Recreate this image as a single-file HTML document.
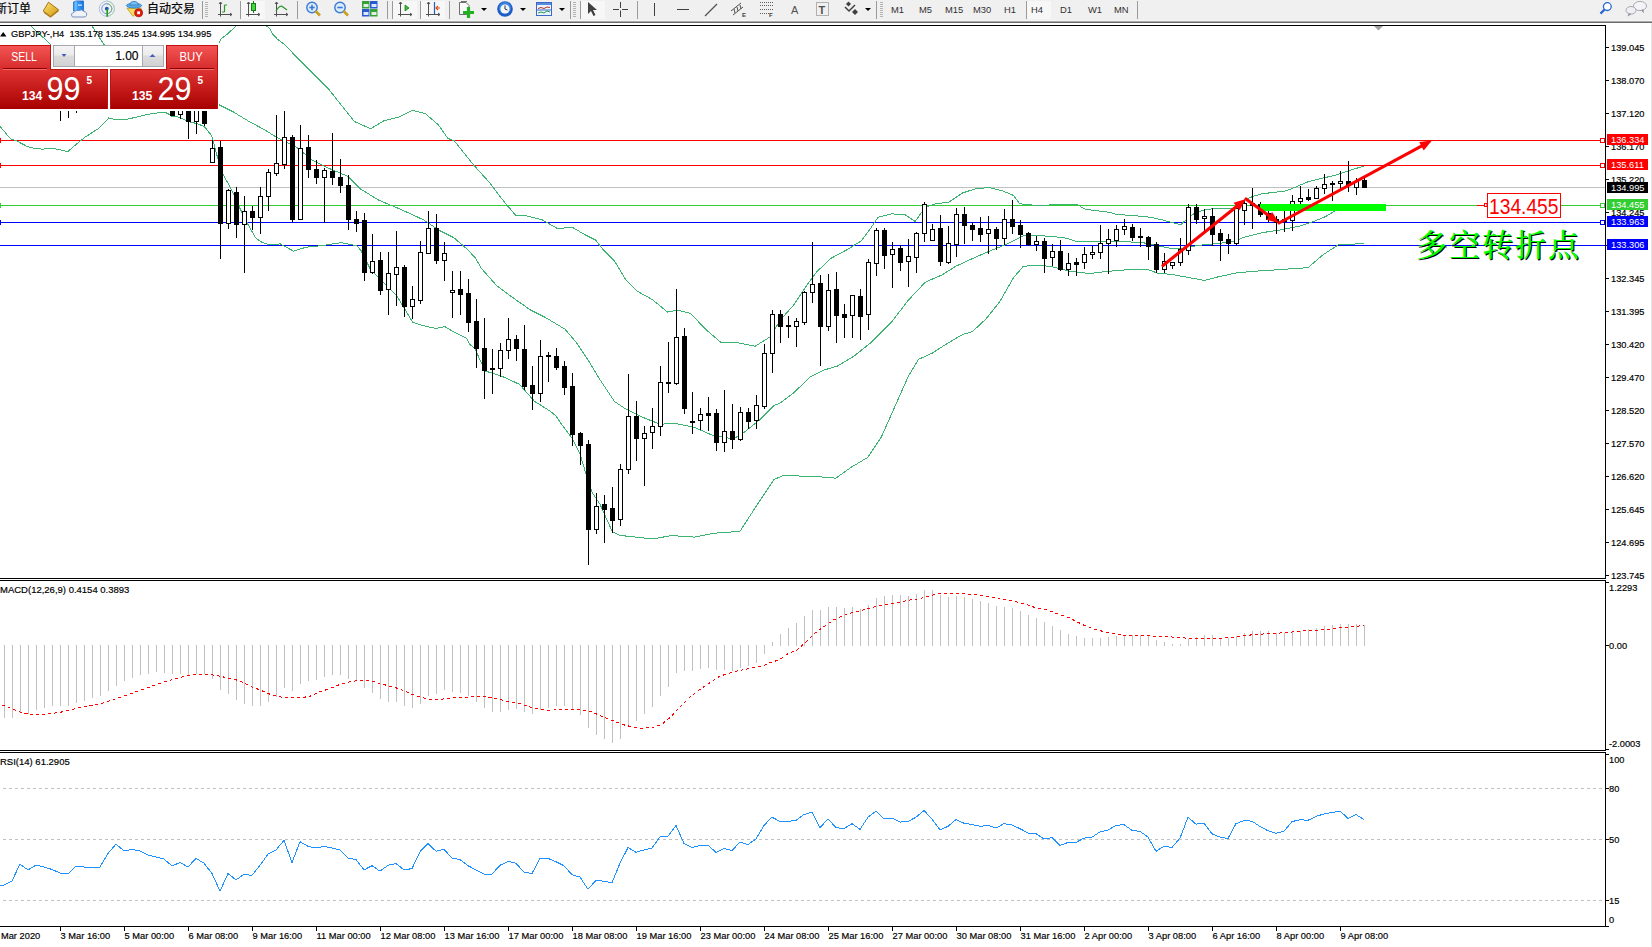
<!DOCTYPE html>
<html><head><meta charset="utf-8"><title>GBPJPY H4</title>
<style>
html,body{margin:0;padding:0;width:1652px;height:947px;overflow:hidden;background:#fff;}
svg text{white-space:pre;}
text[fill="#000"]{stroke:#000;stroke-width:0.18px;}
</style></head><body>
<svg width="1652" height="947" viewBox="0 0 1652 947" style="position:absolute;left:0;top:0;font-family:'Liberation Sans', 'Noto Sans CJK SC', sans-serif">
<rect x="0" y="0" width="1652" height="947" fill="#fff"/>
<rect x="1651" y="23" width="1" height="924" fill="#e6e6e6"/>
<rect x="0" y="0" width="1652" height="20" fill="#f0f0f0"/>
<rect x="0" y="20" width="1652" height="1" fill="#f7f7f7"/>
<rect x="0" y="21" width="1652" height="1" fill="#a9a9a9"/>
<rect x="0" y="22" width="1652" height="1" fill="#6d6d6d"/>
<rect x="202" y="1" width="1" height="18" fill="#9a9a9a"/>
<rect x="240" y="1" width="1" height="18" fill="#9a9a9a"/>
<rect x="297" y="1" width="1" height="18" fill="#9a9a9a"/>
<rect x="387" y="1" width="1" height="18" fill="#9a9a9a"/>
<rect x="392" y="1" width="1" height="18" fill="#9a9a9a"/>
<rect x="420" y="1" width="1" height="18" fill="#9a9a9a"/>
<rect x="449" y="1" width="1" height="18" fill="#9a9a9a"/>
<rect x="570" y="1" width="1" height="18" fill="#9a9a9a"/>
<rect x="580" y="1" width="1" height="18" fill="#9a9a9a"/>
<rect x="637" y="1" width="1" height="18" fill="#9a9a9a"/>
<rect x="876" y="1" width="1" height="18" fill="#9a9a9a"/>
<rect x="1026" y="1" width="1" height="18" fill="#9a9a9a"/>
<rect x="1137" y="1" width="1" height="18" fill="#9a9a9a"/>
<rect x="205" y="2" width="3" height="1" fill="#b4b4b4"/>
<rect x="205" y="4" width="3" height="1" fill="#b4b4b4"/>
<rect x="205" y="6" width="3" height="1" fill="#b4b4b4"/>
<rect x="205" y="8" width="3" height="1" fill="#b4b4b4"/>
<rect x="205" y="10" width="3" height="1" fill="#b4b4b4"/>
<rect x="205" y="12" width="3" height="1" fill="#b4b4b4"/>
<rect x="205" y="14" width="3" height="1" fill="#b4b4b4"/>
<rect x="205" y="16" width="3" height="1" fill="#b4b4b4"/>
<rect x="573" y="2" width="3" height="1" fill="#b4b4b4"/>
<rect x="573" y="4" width="3" height="1" fill="#b4b4b4"/>
<rect x="573" y="6" width="3" height="1" fill="#b4b4b4"/>
<rect x="573" y="8" width="3" height="1" fill="#b4b4b4"/>
<rect x="573" y="10" width="3" height="1" fill="#b4b4b4"/>
<rect x="573" y="12" width="3" height="1" fill="#b4b4b4"/>
<rect x="573" y="14" width="3" height="1" fill="#b4b4b4"/>
<rect x="573" y="16" width="3" height="1" fill="#b4b4b4"/>
<rect x="880" y="2" width="3" height="1" fill="#b4b4b4"/>
<rect x="880" y="4" width="3" height="1" fill="#b4b4b4"/>
<rect x="880" y="6" width="3" height="1" fill="#b4b4b4"/>
<rect x="880" y="8" width="3" height="1" fill="#b4b4b4"/>
<rect x="880" y="10" width="3" height="1" fill="#b4b4b4"/>
<rect x="880" y="12" width="3" height="1" fill="#b4b4b4"/>
<rect x="880" y="14" width="3" height="1" fill="#b4b4b4"/>
<rect x="880" y="16" width="3" height="1" fill="#b4b4b4"/>
<rect x="241" y="1" width="24" height="18" fill="#f7f7f7"/>
<rect x="393" y="1" width="24" height="18" fill="#f7f7f7"/>
<rect x="421" y="1" width="24" height="18" fill="#f7f7f7"/>
<rect x="581" y="1" width="24" height="18" fill="#f7f7f7"/>
<rect x="1027" y="1" width="24" height="18" fill="#f7f7f7"/>
<text x="-5" y="13" font-size="12" fill="#000" style="font-family:'Noto Sans CJK SC',sans-serif">新订单</text>
<text x="147" y="13" font-size="12" fill="#000" style="font-family:'Noto Sans CJK SC',sans-serif">自动交易</text>
<defs><linearGradient id="gold" x1="0" y1="0" x2="1" y2="1"><stop offset="0" stop-color="#ffe070"/><stop offset="1" stop-color="#d09a10"/></linearGradient><linearGradient id="bluedoc" x1="0" y1="0" x2="1" y2="0"><stop offset="0" stop-color="#50b0ff"/><stop offset="1" stop-color="#1478e8"/></linearGradient></defs>
<path d="M48.5,2.2 L58.6,9.8 L50.5,16.5 L43.2,11 Z" fill="url(#gold)" stroke="#9a6a10" stroke-width="0.9"/><path d="M44,12.2 L50.5,17 L58.6,10.6" fill="none" stroke="#b07a18" stroke-width="1.3"/>
<path d="M73.5,2 L76,1 L83.5,1 L83.5,11 L73.5,11Z" fill="url(#bluedoc)" stroke="#1a66c8" stroke-width="0.8"/><path d="M76,1 L76,11" stroke="#a8d8ff" stroke-width="0.8"/><rect x="78" y="4.5" width="4" height="1.2" fill="#d8eeff"/><path d="M72,16.5 Q70.5,13 74,12.5 Q75.5,9.5 79,10.5 Q82,8.8 84,11.5 Q87.5,12 86.5,15.5 Q86,17 84,17 L74,17 Q72.5,17 72,16.5Z" fill="#eef2fa" stroke="#6a86b8" stroke-width="0.9"/>
<g fill="none"><circle cx="106.8" cy="8.7" r="7.6" stroke="#a8bce8" stroke-width="0.9"/><path d="M106.8,1.1 A7.6,7.6 0 0 1 106.8,16.3" stroke="#a8d0a8" stroke-width="0.9"/><circle cx="106.8" cy="8.7" r="5" stroke="#6a8ee0" stroke-width="1"/><path d="M106.8,3.7 A5,5 0 0 1 106.8,13.7" stroke="#78b878" stroke-width="1"/><circle cx="106.8" cy="8.7" r="1.9" fill="#2050c8"/><path d="M107.2,9 L107.2,16.8" stroke="#20a020" stroke-width="1.6"/></g>
<g><path d="M127,8.3 L141.4,8.3 L133,16.4Z" fill="#f6dc60" stroke="#c09a20" stroke-width="0.8"/><ellipse cx="134" cy="5.6" rx="7.6" ry="2.4" fill="#5aaae6" stroke="#2a78c0" stroke-width="0.8"/><path d="M129.5,5 Q130,1.5 134,1.3 Q138,1.5 138.5,5Z" fill="#7cc0f0" stroke="#2a78c0" stroke-width="0.8"/><circle cx="138.6" cy="12.8" r="4" fill="#e02010" stroke="#a81000" stroke-width="0.8"/><rect x="137.2" y="11.4" width="2.8" height="2.8" fill="#fff"/></g>
<g stroke="#505050" stroke-width="1" fill="none"><path d="M220.5,2 L220.5,16.5 M218,14.5 L232,14.5"/><path d="M219,4 L220.5,2 L222,4"/><path d="M230,13 L232,14.5 L230,16"/></g>
<path d="M224.5,12 L224.5,5 M224.5,5 L227,5 M222,12 L224.5,12" stroke="#2a9a2a" stroke-width="1.2" fill="none"/>
<g stroke="#505050" stroke-width="1" fill="none"><path d="M248.5,2 L248.5,16.5 M246,14.5 L260,14.5"/><path d="M247,4 L248.5,2 L250,4"/><path d="M258,13 L260,14.5 L258,16"/></g>
<path d="M253.5,1 L253.5,13" stroke="#1a7a1a"/><rect x="251.5" y="3.5" width="4" height="7" fill="#3ada3a" stroke="#1a7a1a" stroke-width="1"/>
<g stroke="#505050" stroke-width="1" fill="none"><path d="M276.5,2 L276.5,16.5 M274,14.5 L288,14.5"/><path d="M275,4 L276.5,2 L278,4"/><path d="M286,13 L288,14.5 L286,16"/></g>
<path d="M276,11 Q280,4 283,7 L287,10" stroke="#2a9a2a" stroke-width="1.2" fill="none"/>
<circle cx="312" cy="7.5" r="5.2" fill="#dcecff" stroke="#3a7ad0" stroke-width="1.4"/><path d="M315.5,11 L320,15.5" stroke="#c8a020" stroke-width="2.6"/>
<path d="M309.3,7.5 L314.7,7.5" stroke="#3a7ad0" stroke-width="1.6"/>
<path d="M312,4.8 L312,10.2" stroke="#3a7ad0" stroke-width="1.6"/>
<circle cx="340" cy="7.5" r="5.2" fill="#dcecff" stroke="#3a7ad0" stroke-width="1.4"/><path d="M343.5,11 L348,15.5" stroke="#c8a020" stroke-width="2.6"/>
<path d="M337.3,7.5 L342.7,7.5" stroke="#3a7ad0" stroke-width="1.6"/>
<g><rect x="362" y="1" width="7.5" height="7.5" fill="#38a038"/><rect x="370" y="1" width="7.5" height="7.5" fill="#2a5ad0"/><rect x="362" y="9" width="7.5" height="7.5" fill="#2a5ad0"/><rect x="370" y="9" width="7.5" height="7.5" fill="#38a038"/><rect x="363.5" y="4" width="5" height="3" fill="#e0f0e0"/><rect x="371.5" y="4" width="5" height="3" fill="#e0e8ff"/><rect x="363.5" y="12" width="5" height="3" fill="#e0e8ff"/><rect x="371.5" y="12" width="5" height="3" fill="#e0f0e0"/></g>
<g stroke="#505050" stroke-width="1" fill="none"><path d="M400.5,2 L400.5,16.5 M398,14.5 L412,14.5"/><path d="M399,4 L400.5,2 L402,4"/><path d="M410,13 L412,14.5 L410,16"/></g>
<path d="M405,5 L405,11 L409,8Z" fill="#30c030" stroke="#208020" stroke-width="0.8"/>
<g stroke="#505050" stroke-width="1" fill="none"><path d="M428.5,2 L428.5,16.5 M426,14.5 L440,14.5"/><path d="M427,4 L428.5,2 L430,4"/><path d="M438,13 L440,14.5 L438,16"/></g>
<path d="M434.5,2 L434.5,14" stroke="#2060c0" stroke-width="1.2"/><path d="M440,8 L436,8 M438,6 L436,8 L438,10" stroke="#e05010" stroke-width="1.2" fill="none"/>
<g><path d="M459.5,2.5 L466,2.5 L469,5.5 L469,14.5 L459.5,14.5Z" fill="#fafafa" stroke="#707070"/><path d="M461,1.5 L467,1.5" stroke="#707070"/><path d="M468.5,7 L468.5,18 M463,12.5 L474,12.5" stroke="#20b020" stroke-width="3.2"/></g>
<path d="M481,8 L487,8 L484,11Z" fill="#000"/>
<g><circle cx="505" cy="9" r="7.8" fill="#1c5cc4"/><circle cx="505" cy="8" r="6" fill="#3f86e4"/><circle cx="505" cy="9" r="4.6" fill="#f4f6fa"/><path d="M505,5.5 L505,9 L507.5,10" stroke="#303030" stroke-width="1" fill="none"/></g>
<path d="M520,8 L526,8 L523,11Z" fill="#000"/>
<g><rect x="536.5" y="2.5" width="15" height="13" fill="#eef4ff" stroke="#3a6ac8"/><rect x="537" y="3" width="14" height="2" fill="#5a8ae0"/><path d="M538,8.5 L541,7.5 L544,8.5 L547,7 L550,7.5" stroke="#b03020" fill="none"/><path d="M538,13 L541,12 L544,13 L547,11 L550,12" stroke="#20a040" fill="none"/><path d="M537,10 L551,10" stroke="#3a6ac8"/></g>
<path d="M559,8 L565,8 L562,11Z" fill="#000"/>
<path d="M588,2 L588,14 L591,11 L593.5,16 L595.5,15 L593,10 L597,10Z" fill="#404040"/>
<path d="M620.5,2 L620.5,8 M620.5,10.5 L620.5,17 M613,9.5 L619,9.5 M622,9.5 L628,9.5" stroke="#404040" stroke-width="1"/>
<path d="M654.5,3 L654.5,16" stroke="#404040" stroke-width="1"/>
<path d="M677,9.5 L689,9.5" stroke="#404040" stroke-width="1"/>
<path d="M705,16 L717,4" stroke="#505050" stroke-width="1.2"/>
<g stroke="#505050" stroke-width="1" fill="none"><path d="M731,11 L741,3 M733,15 L743,7 M734,9 L735,13 M737,7 L738,11 M740,5 L741,9"/></g><text x="742" y="17" font-size="6" font-weight="bold" fill="#404040" style="font-family:'Liberation Sans',sans-serif">E</text>
<g stroke="#606060" stroke-width="1" stroke-dasharray="1,1" fill="none"><path d="M760,2.5 L773,2.5 M760,5.5 L773,5.5 M760,9.5 L773,9.5 M760,13.5 L769,13.5"/></g><text x="769" y="17" font-size="6" font-weight="bold" fill="#404040" style="font-family:'Liberation Sans',sans-serif">F</text>
<text x="791" y="13.5" font-size="11" fill="#505050" style="font-family:'Liberation Sans',sans-serif">A</text>
<rect x="816.5" y="2.5" width="12" height="13" fill="none" stroke="#707070" stroke-dasharray="1,1"/><text x="818.5" y="13.5" font-size="11" font-weight="bold" fill="#505050" style="font-family:'Liberation Sans',sans-serif">T</text>
<g fill="#404040"><path d="M846,4 L848.5,1.5 L851,4 L848.5,6.5Z"/><path d="M852,12 L855,9 L858,12 L855,15Z"/><path d="M845,7 L849,11 L855,5" stroke="#404040" stroke-width="1.5" fill="none"/></g>
<path d="M865,8 L871,8 L868,11Z" fill="#000"/>
<text x="891" y="12.7" font-size="9.4" fill="#303030">M1</text>
<text x="919" y="12.7" font-size="9.4" fill="#303030">M5</text>
<text x="945" y="12.7" font-size="9.4" fill="#303030">M15</text>
<text x="973" y="12.7" font-size="9.4" fill="#303030">M30</text>
<text x="1004" y="12.7" font-size="9.4" fill="#303030">H1</text>
<text x="1031" y="12.7" font-size="9.4" fill="#303030">H4</text>
<text x="1060" y="12.7" font-size="9.4" fill="#303030">D1</text>
<text x="1088" y="12.7" font-size="9.4" fill="#303030">W1</text>
<text x="1114" y="12.7" font-size="9.4" fill="#303030">MN</text>
<circle cx="1607.3" cy="6.6" r="3.9" fill="#fff" stroke="#2a66d0" stroke-width="1.3"/><path d="M1604.8,9.3 L1600.5,13.6" stroke="#2a66d0" stroke-width="2.2"/>
<g stroke="#a0a0a8" stroke-width="0.9"><ellipse cx="1640" cy="6" rx="6.5" ry="4.6" fill="#f4f4f8"/><path d="M1641,10 L1643.5,12.5 L1643,9.5" fill="#808090"/><ellipse cx="1631" cy="10.3" rx="5" ry="3.8" fill="#eeeef4"/><path d="M1629,13.5 L1628,16 L1631,14" fill="#808090"/></g>
<rect x="0" y="25" width="1606" height="1" fill="#000"/>
<rect x="1605" y="25" width="1" height="554" fill="#000"/>
<rect x="0" y="578" width="1606" height="1" fill="#000"/>
<path d="M1374,26 L1383,26 L1378.5,30.5Z" fill="#a0a0a0"/>
<svg x="0" y="26" width="1605" height="552" viewBox="0 26 1605 552" overflow="hidden">
<g shape-rendering="crispEdges">
<rect x="0" y="187" width="1605" height="1" fill="#c0c0c0"/>
<rect x="0" y="140" width="1600" height="1" fill="#ff0000"/>
<rect x="0" y="165" width="1600" height="1" fill="#ff0000"/>
<rect x="0" y="205" width="1600" height="1" fill="#32cd32"/>
<rect x="0" y="222" width="1600" height="1" fill="#0000ff"/>
<rect x="0" y="245" width="1605" height="1" fill="#0000ff"/>
<rect x="1600.5" y="138.5" width="4" height="4" fill="#fff" stroke="#ff0000" stroke-width="1"/>
<rect x="-3.5" y="138.5" width="4" height="4" fill="#fff" stroke="#ff0000" stroke-width="1"/>
<rect x="1600.5" y="163.5" width="4" height="4" fill="#fff" stroke="#ff0000" stroke-width="1"/>
<rect x="-3.5" y="163.5" width="4" height="4" fill="#fff" stroke="#ff0000" stroke-width="1"/>
<rect x="1600.5" y="203.5" width="4" height="4" fill="#fff" stroke="#32cd32" stroke-width="1"/>
<rect x="-3.5" y="203.5" width="4" height="4" fill="#fff" stroke="#32cd32" stroke-width="1"/>
<rect x="1600.5" y="220.5" width="4" height="4" fill="#fff" stroke="#0000ff" stroke-width="1"/>
<rect x="-3.5" y="220.5" width="4" height="4" fill="#fff" stroke="#0000ff" stroke-width="1"/>
</g>
<g fill="none" stroke="#3cb371" stroke-width="1" shape-rendering="crispEdges">
<polyline points="28.0,22.0 31.0,26.0 49.0,43.0 52.0,46.0"/>
<polyline points="89.0,22.0 92.0,26.0 103.0,43.0 105.0,46.0"/>
<polyline points="219.3,43.0 220.5,39.4 222.9,37.5 227.3,34.3 236.0,25.9 237.5,23.0"/>
<polyline points="264.5,23.0 266.5,25.9 269.4,28.3 272.8,34.1 277.6,39.4 281.5,42.3 285.0,44.8 296.6,57.2 328.8,89.4 354.5,121.6 370.6,128.7 383.5,121.0 399.6,116.8 412.5,110.3 425.4,113.6 438.3,124.8 447.9,138.4 454.3,140.9 473.7,165.1 489.8,182.8 504.2,201.9 515.6,215.2 527.0,216.0 542.2,219.8 557.4,228.5 572.6,227.4 584.0,234.2 595.4,239.9 603.0,249.4 614.4,260.8 625.8,279.8 637.2,291.2 652.4,299.6 667.6,312.1 677.1,310.2 690.4,313.3 705.6,329.2 720.9,342.5 736.1,342.5 755.1,346.3 770.3,336.8 780.0,320.4 793.5,305.2 807.0,284.9 817.2,271.4 830.7,258.5 847.6,249.4 861.1,241.0 871.2,227.5 878.0,217.3 891.5,213.9 905.0,214.6 915.2,221.4 925.3,207.2 935.5,203.8 949.0,202.1 962.5,193.0 976.0,188.6 989.5,187.6 1003.0,191.0 1013.2,195.3 1019.9,203.8 1036.8,205.5 1060.5,204.5 1077.4,204.5 1084.2,208.9 1090.0,209.9 1108.2,212.1 1117.2,214.5 1135.4,215.7 1149.9,217.2 1162.6,219.9 1171.7,222.6 1180.8,224.5 1188.1,218.1 1195.3,212.6 1204.4,209.9 1217.1,208.1 1233.5,208.1 1244.3,199.9 1253.4,196.3 1262.5,193.6 1271.6,192.7 1286.1,190.9 1295.2,187.2 1307.9,181.8 1322.4,178.1 1335.1,175.4 1347.9,170.9 1364.2,166.0"/>
<polyline points="214.0,102.0 219.3,104.9 232.2,111.3 248.3,121.0 264.4,129.7 277.3,137.7 296.6,147.4 312.7,160.3 328.8,168.3 348.1,176.4 361.0,189.3 378.4,200.0 399.9,209.0 423.3,219.7 439.4,230.5 453.8,237.7 466.4,248.5 475.0,257.4 481.4,268.4 496.6,285.5 511.8,296.9 530.8,310.2 546.0,317.8 565.0,329.2 576.4,342.5 587.8,359.6 599.2,378.6 614.4,401.4 625.8,409.0 641.0,416.6 660.0,424.2 675.2,423.5 694.2,427.3 713.3,435.7 732.3,438.7 739.9,435.7 758.9,420.5 774.1,405.2 780.0,403.2 793.5,393.0 810.4,376.8 823.9,370.1 837.5,366.0 854.3,355.9 871.2,342.4 891.5,322.1 908.4,300.1 925.3,282.2 942.2,274.8 955.7,266.3 972.6,258.5 989.5,251.1 1006.4,244.3 1023.3,235.9 1043.6,235.9 1063.9,237.6 1077.4,241.6 1090.0,241.2 1108.2,241.7 1126.3,241.7 1144.5,243.0 1159.0,246.2 1169.9,248.1 1184.4,248.1 1199.0,245.3 1217.1,243.5 1233.5,241.7 1244.3,237.2 1262.5,232.6 1280.7,229.9 1298.8,226.3 1313.4,221.7 1326.1,216.3 1335.1,210.8 1344.2,207.2 1364.2,205.4"/>
<polyline points="0.0,126.3 10.6,139.0 16.9,141.1 27.5,146.6 33.8,148.1 42.3,149.2 50.7,148.1 59.2,149.6 67.6,151.7 76.1,144.5 84.5,137.5 99.3,128.0 108.8,117.9 114.1,119.2 126.8,119.2 137.3,117.0 147.9,114.3 158.5,112.8 165.3,112.3 169.7,114.7 172.1,116.4 177.0,116.6 180.3,117.6 185.2,120.0 187.6,121.5 191.5,122.2 197.8,123.9 203.6,126.3 206.5,129.2 210.4,134.1 212.5,138.0 217.9,158.9 223.3,175.0 230.5,187.6 239.4,207.3 248.4,225.3 255.6,237.9 261.9,242.3 267.3,244.1 280.5,244.0 293.4,251.1 306.2,247.2 322.3,245.6 335.2,243.4 341.7,242.7 351.3,244.6 356.8,245.8 361.0,250.4 370.6,269.8 383.5,282.7 396.3,295.1 412.5,322.1 421.5,325.3 435.8,328.4 444.8,326.6 455.6,332.9 466.4,338.2 470.0,344.4 475.0,349.0 485.2,371.0 500.4,375.6 519.4,384.3 534.6,401.4 549.8,410.9 556.0,416.0 560.0,422.0 572.0,438.2 580.1,454.2 586.1,474.3 592.1,492.4 600.1,504.4 612.2,531.5 620.2,535.5 629.6,536.4 652.4,539.0 671.4,535.6 694.2,537.1 713.3,533.3 739.9,531.4 755.1,507.9 774.1,479.4 782.4,475.9 793.5,475.8 820.6,476.9 835.8,478.2 851.0,467.4 867.9,457.3 881.4,437.0 894.9,406.6 908.4,376.2 918.6,359.3 932.1,353.2 949.0,342.4 962.5,334.6 972.6,331.5 986.2,318.7 999.7,301.8 1013.2,278.1 1023.3,266.3 1036.8,265.3 1050.4,266.3 1070.6,271.4 1090.0,273.5 1108.2,271.3 1126.3,269.8 1148.1,269.5 1157.2,273.1 1171.7,274.4 1186.2,277.1 1204.4,280.4 1217.1,277.1 1235.3,273.1 1253.4,271.3 1271.6,270.2 1289.7,268.9 1307.9,267.7 1322.4,255.3 1338.8,244.4 1353.3,244.1 1364.2,243.5"/>
</g>
<g fill="#000" shape-rendering="crispEdges"><rect x="60" y="100" width="1" height="21"/><rect x="68" y="100" width="1" height="18"/><rect x="76" y="100" width="1" height="13"/><rect x="172" y="100" width="1" height="16"/><rect x="170" y="100" width="5" height="16"/><rect x="180" y="100" width="1" height="19"/><rect x="178" y="100" width="5" height="15"/><rect x="179" y="101" width="3" height="13" fill="#fff"/><rect x="188" y="100" width="1" height="39"/><rect x="186" y="100" width="5" height="22"/><rect x="196" y="100" width="1" height="34"/><rect x="194" y="100" width="5" height="22"/><rect x="195" y="101" width="3" height="20" fill="#fff"/><rect x="204" y="100" width="1" height="26"/><rect x="202" y="100" width="5" height="24"/><rect x="212" y="140" width="1" height="23"/><rect x="210" y="148" width="5" height="15"/><rect x="211" y="149" width="3" height="13" fill="#fff"/><rect x="220" y="141" width="1" height="118"/><rect x="218" y="147" width="5" height="77"/><rect x="228" y="189" width="1" height="40"/><rect x="226" y="190" width="5" height="34"/><rect x="227" y="191" width="3" height="32" fill="#fff"/><rect x="236" y="187" width="1" height="51"/><rect x="234" y="192" width="5" height="33"/><rect x="244" y="196" width="1" height="77"/><rect x="242" y="211" width="5" height="14"/><rect x="243" y="212" width="3" height="12" fill="#fff"/><rect x="252" y="206" width="1" height="24"/><rect x="250" y="211" width="5" height="7"/><rect x="260" y="187" width="1" height="47"/><rect x="258" y="196" width="5" height="22"/><rect x="259" y="197" width="3" height="20" fill="#fff"/><rect x="268" y="169" width="1" height="42"/><rect x="266" y="172" width="5" height="25"/><rect x="267" y="173" width="3" height="23" fill="#fff"/><rect x="276" y="115" width="1" height="61"/><rect x="274" y="163" width="5" height="11"/><rect x="275" y="164" width="3" height="9" fill="#fff"/><rect x="284" y="111" width="1" height="58"/><rect x="282" y="137" width="5" height="28"/><rect x="283" y="138" width="3" height="26" fill="#fff"/><rect x="292" y="135" width="1" height="87"/><rect x="290" y="137" width="5" height="83"/><rect x="300" y="125" width="1" height="95"/><rect x="298" y="148" width="5" height="72"/><rect x="299" y="149" width="3" height="70" fill="#fff"/><rect x="308" y="135" width="1" height="43"/><rect x="306" y="147" width="5" height="23"/><rect x="316" y="160" width="1" height="24"/><rect x="314" y="169" width="5" height="9"/><rect x="324" y="168" width="1" height="55"/><rect x="322" y="170" width="5" height="8"/><rect x="323" y="171" width="3" height="6" fill="#fff"/><rect x="332" y="133" width="1" height="52"/><rect x="330" y="171" width="5" height="7"/><rect x="340" y="159" width="1" height="34"/><rect x="338" y="177" width="5" height="9"/><rect x="348" y="175" width="1" height="55"/><rect x="346" y="185" width="5" height="35"/><rect x="356" y="211" width="1" height="21"/><rect x="354" y="219" width="5" height="5"/><rect x="364" y="213" width="1" height="68"/><rect x="362" y="220" width="5" height="53"/><rect x="372" y="234" width="1" height="40"/><rect x="370" y="261" width="5" height="12"/><rect x="371" y="262" width="3" height="10" fill="#fff"/><rect x="380" y="252" width="1" height="43"/><rect x="378" y="260" width="5" height="31"/><rect x="388" y="252" width="1" height="63"/><rect x="386" y="273" width="5" height="17"/><rect x="387" y="274" width="3" height="15" fill="#fff"/><rect x="396" y="231" width="1" height="75"/><rect x="394" y="267" width="5" height="8"/><rect x="395" y="268" width="3" height="6" fill="#fff"/><rect x="404" y="265" width="1" height="52"/><rect x="402" y="267" width="5" height="40"/><rect x="412" y="286" width="1" height="33"/><rect x="410" y="299" width="5" height="8"/><rect x="411" y="300" width="3" height="6" fill="#fff"/><rect x="420" y="241" width="1" height="63"/><rect x="418" y="252" width="5" height="49"/><rect x="419" y="253" width="3" height="47" fill="#fff"/><rect x="428" y="211" width="1" height="43"/><rect x="426" y="228" width="5" height="26"/><rect x="427" y="229" width="3" height="24" fill="#fff"/><rect x="436" y="214" width="1" height="50"/><rect x="434" y="228" width="5" height="33"/><rect x="444" y="242" width="1" height="39"/><rect x="442" y="253" width="5" height="8"/><rect x="443" y="254" width="3" height="6" fill="#fff"/><rect x="452" y="271" width="1" height="47"/><rect x="450" y="290" width="5" height="3"/><rect x="451" y="291" width="3" height="1" fill="#fff"/><rect x="460" y="271" width="1" height="44"/><rect x="458" y="289" width="5" height="6"/><rect x="468" y="279" width="1" height="53"/><rect x="466" y="293" width="5" height="30"/><rect x="476" y="299" width="1" height="69"/><rect x="474" y="321" width="5" height="28"/><rect x="484" y="318" width="1" height="81"/><rect x="482" y="348" width="5" height="23"/><rect x="492" y="349" width="1" height="45"/><rect x="490" y="368" width="5" height="2"/><rect x="500" y="343" width="1" height="34"/><rect x="498" y="350" width="5" height="19"/><rect x="499" y="351" width="3" height="17" fill="#fff"/><rect x="508" y="318" width="1" height="41"/><rect x="506" y="339" width="5" height="12"/><rect x="507" y="340" width="3" height="10" fill="#fff"/><rect x="516" y="335" width="1" height="26"/><rect x="514" y="339" width="5" height="10"/><rect x="524" y="325" width="1" height="65"/><rect x="522" y="349" width="5" height="38"/><rect x="532" y="366" width="1" height="44"/><rect x="530" y="385" width="5" height="9"/><rect x="540" y="340" width="1" height="62"/><rect x="538" y="356" width="5" height="38"/><rect x="539" y="357" width="3" height="36" fill="#fff"/><rect x="548" y="352" width="1" height="30"/><rect x="546" y="355" width="5" height="2"/><rect x="556" y="348" width="1" height="22"/><rect x="554" y="356" width="5" height="12"/><rect x="564" y="361" width="1" height="34"/><rect x="562" y="366" width="5" height="22"/><rect x="572" y="373" width="1" height="73"/><rect x="570" y="386" width="5" height="49"/><rect x="580" y="432" width="1" height="33"/><rect x="578" y="433" width="5" height="13"/><rect x="588" y="440" width="1" height="125"/><rect x="586" y="444" width="5" height="86"/><rect x="596" y="493" width="1" height="41"/><rect x="594" y="506" width="5" height="24"/><rect x="595" y="507" width="3" height="22" fill="#fff"/><rect x="604" y="495" width="1" height="48"/><rect x="602" y="504" width="5" height="6"/><rect x="612" y="487" width="1" height="46"/><rect x="610" y="508" width="5" height="13"/><rect x="620" y="464" width="1" height="62"/><rect x="618" y="469" width="5" height="51"/><rect x="619" y="470" width="3" height="49" fill="#fff"/><rect x="628" y="374" width="1" height="100"/><rect x="626" y="416" width="5" height="54"/><rect x="627" y="417" width="3" height="52" fill="#fff"/><rect x="636" y="401" width="1" height="60"/><rect x="634" y="416" width="5" height="23"/><rect x="644" y="426" width="1" height="60"/><rect x="642" y="433" width="5" height="6"/><rect x="643" y="434" width="3" height="4" fill="#fff"/><rect x="652" y="408" width="1" height="41"/><rect x="650" y="426" width="5" height="7"/><rect x="651" y="427" width="3" height="5" fill="#fff"/><rect x="660" y="366" width="1" height="70"/><rect x="658" y="382" width="5" height="45"/><rect x="659" y="383" width="3" height="43" fill="#fff"/><rect x="668" y="342" width="1" height="51"/><rect x="666" y="382" width="5" height="2"/><rect x="676" y="289" width="1" height="96"/><rect x="674" y="337" width="5" height="47"/><rect x="675" y="338" width="3" height="45" fill="#fff"/><rect x="684" y="328" width="1" height="86"/><rect x="682" y="336" width="5" height="73"/><rect x="692" y="392" width="1" height="42"/><rect x="690" y="421" width="5" height="2"/><rect x="700" y="408" width="1" height="22"/><rect x="698" y="414" width="5" height="7"/><rect x="699" y="415" width="3" height="5" fill="#fff"/><rect x="708" y="397" width="1" height="34"/><rect x="706" y="413" width="5" height="3"/><rect x="716" y="409" width="1" height="42"/><rect x="714" y="413" width="5" height="30"/><rect x="724" y="390" width="1" height="62"/><rect x="722" y="431" width="5" height="12"/><rect x="723" y="432" width="3" height="10" fill="#fff"/><rect x="732" y="404" width="1" height="45"/><rect x="730" y="431" width="5" height="9"/><rect x="740" y="407" width="1" height="34"/><rect x="738" y="412" width="5" height="28"/><rect x="739" y="413" width="3" height="26" fill="#fff"/><rect x="748" y="408" width="1" height="21"/><rect x="746" y="412" width="5" height="10"/><rect x="756" y="395" width="1" height="34"/><rect x="754" y="405" width="5" height="16"/><rect x="755" y="406" width="3" height="14" fill="#fff"/><rect x="764" y="344" width="1" height="65"/><rect x="762" y="353" width="5" height="54"/><rect x="763" y="354" width="3" height="52" fill="#fff"/><rect x="772" y="310" width="1" height="63"/><rect x="770" y="314" width="5" height="40"/><rect x="771" y="315" width="3" height="38" fill="#fff"/><rect x="780" y="310" width="1" height="33"/><rect x="778" y="314" width="5" height="13"/><rect x="788" y="316" width="1" height="22"/><rect x="786" y="325" width="5" height="2"/><rect x="796" y="318" width="1" height="29"/><rect x="794" y="321" width="5" height="6"/><rect x="795" y="322" width="3" height="4" fill="#fff"/><rect x="804" y="291" width="1" height="34"/><rect x="802" y="292" width="5" height="31"/><rect x="803" y="293" width="3" height="29" fill="#fff"/><rect x="812" y="242" width="1" height="61"/><rect x="810" y="284" width="5" height="9"/><rect x="811" y="285" width="3" height="7" fill="#fff"/><rect x="820" y="275" width="1" height="91"/><rect x="818" y="283" width="5" height="44"/><rect x="828" y="274" width="1" height="57"/><rect x="826" y="290" width="5" height="37"/><rect x="827" y="291" width="3" height="35" fill="#fff"/><rect x="836" y="272" width="1" height="71"/><rect x="834" y="289" width="5" height="27"/><rect x="844" y="304" width="1" height="34"/><rect x="842" y="314" width="5" height="4"/><rect x="852" y="295" width="1" height="43"/><rect x="850" y="295" width="5" height="21"/><rect x="851" y="296" width="3" height="19" fill="#fff"/><rect x="860" y="289" width="1" height="51"/><rect x="858" y="296" width="5" height="21"/><rect x="868" y="259" width="1" height="71"/><rect x="866" y="262" width="5" height="53"/><rect x="867" y="263" width="3" height="51" fill="#fff"/><rect x="876" y="228" width="1" height="48"/><rect x="874" y="230" width="5" height="34"/><rect x="875" y="231" width="3" height="32" fill="#fff"/><rect x="884" y="228" width="1" height="41"/><rect x="882" y="230" width="5" height="26"/><rect x="892" y="242" width="1" height="46"/><rect x="890" y="249" width="5" height="6"/><rect x="891" y="250" width="3" height="4" fill="#fff"/><rect x="900" y="245" width="1" height="26"/><rect x="898" y="248" width="5" height="15"/><rect x="908" y="239" width="1" height="48"/><rect x="906" y="256" width="5" height="6"/><rect x="907" y="257" width="3" height="4" fill="#fff"/><rect x="916" y="232" width="1" height="41"/><rect x="914" y="233" width="5" height="25"/><rect x="915" y="234" width="3" height="23" fill="#fff"/><rect x="924" y="202" width="1" height="40"/><rect x="922" y="204" width="5" height="30"/><rect x="923" y="205" width="3" height="28" fill="#fff"/><rect x="932" y="224" width="1" height="17"/><rect x="930" y="229" width="5" height="12"/><rect x="931" y="230" width="3" height="10" fill="#fff"/><rect x="940" y="215" width="1" height="51"/><rect x="938" y="228" width="5" height="34"/><rect x="948" y="226" width="1" height="38"/><rect x="946" y="243" width="5" height="20"/><rect x="947" y="244" width="3" height="18" fill="#fff"/><rect x="956" y="208" width="1" height="49"/><rect x="954" y="214" width="5" height="31"/><rect x="955" y="215" width="3" height="29" fill="#fff"/><rect x="964" y="207" width="1" height="37"/><rect x="962" y="214" width="5" height="12"/><rect x="972" y="223" width="1" height="18"/><rect x="970" y="225" width="5" height="5"/><rect x="980" y="217" width="1" height="25"/><rect x="978" y="228" width="5" height="7"/><rect x="988" y="216" width="1" height="38"/><rect x="986" y="229" width="5" height="5"/><rect x="987" y="230" width="3" height="3" fill="#fff"/><rect x="996" y="227" width="1" height="23"/><rect x="994" y="229" width="5" height="10"/><rect x="1004" y="209" width="1" height="36"/><rect x="1002" y="219" width="5" height="20"/><rect x="1003" y="220" width="3" height="18" fill="#fff"/><rect x="1012" y="200" width="1" height="34"/><rect x="1010" y="219" width="5" height="8"/><rect x="1020" y="220" width="1" height="28"/><rect x="1018" y="225" width="5" height="10"/><rect x="1028" y="232" width="1" height="14"/><rect x="1026" y="233" width="5" height="12"/><rect x="1036" y="236" width="1" height="15"/><rect x="1034" y="241" width="5" height="4"/><rect x="1035" y="242" width="3" height="2" fill="#fff"/><rect x="1044" y="238" width="1" height="35"/><rect x="1042" y="241" width="5" height="18"/><rect x="1052" y="244" width="1" height="22"/><rect x="1050" y="251" width="5" height="7"/><rect x="1051" y="252" width="3" height="5" fill="#fff"/><rect x="1060" y="240" width="1" height="31"/><rect x="1058" y="251" width="5" height="19"/><rect x="1068" y="253" width="1" height="23"/><rect x="1066" y="263" width="5" height="7"/><rect x="1067" y="264" width="3" height="5" fill="#fff"/><rect x="1076" y="258" width="1" height="18"/><rect x="1074" y="262" width="5" height="3"/><rect x="1084" y="247" width="1" height="22"/><rect x="1082" y="254" width="5" height="9"/><rect x="1083" y="255" width="3" height="7" fill="#fff"/><rect x="1092" y="246" width="1" height="13"/><rect x="1090" y="252" width="5" height="3"/><rect x="1091" y="253" width="3" height="1" fill="#fff"/><rect x="1100" y="225" width="1" height="34"/><rect x="1098" y="243" width="5" height="10"/><rect x="1099" y="244" width="3" height="8" fill="#fff"/><rect x="1108" y="229" width="1" height="45"/><rect x="1106" y="239" width="5" height="5"/><rect x="1107" y="240" width="3" height="3" fill="#fff"/><rect x="1116" y="225" width="1" height="22"/><rect x="1114" y="229" width="5" height="12"/><rect x="1115" y="230" width="3" height="10" fill="#fff"/><rect x="1124" y="219" width="1" height="16"/><rect x="1122" y="226" width="5" height="4"/><rect x="1123" y="227" width="3" height="2" fill="#fff"/><rect x="1132" y="224" width="1" height="17"/><rect x="1130" y="227" width="5" height="11"/><rect x="1140" y="228" width="1" height="19"/><rect x="1138" y="236" width="5" height="2"/><rect x="1148" y="236" width="1" height="24"/><rect x="1146" y="237" width="5" height="10"/><rect x="1156" y="242" width="1" height="31"/><rect x="1154" y="244" width="5" height="26"/><rect x="1164" y="253" width="1" height="20"/><rect x="1162" y="261" width="5" height="9"/><rect x="1163" y="262" width="3" height="7" fill="#fff"/><rect x="1172" y="262" width="1" height="7"/><rect x="1170" y="262" width="5" height="4"/><rect x="1171" y="263" width="3" height="2" fill="#fff"/><rect x="1180" y="238" width="1" height="28"/><rect x="1178" y="249" width="5" height="14"/><rect x="1179" y="250" width="3" height="12" fill="#fff"/><rect x="1188" y="204" width="1" height="51"/><rect x="1186" y="207" width="5" height="44"/><rect x="1187" y="208" width="3" height="42" fill="#fff"/><rect x="1196" y="204" width="1" height="20"/><rect x="1194" y="207" width="5" height="13"/><rect x="1204" y="209" width="1" height="22"/><rect x="1202" y="216" width="5" height="3"/><rect x="1203" y="217" width="3" height="1" fill="#fff"/><rect x="1212" y="208" width="1" height="38"/><rect x="1210" y="216" width="5" height="19"/><rect x="1220" y="229" width="1" height="32"/><rect x="1218" y="233" width="5" height="8"/><rect x="1228" y="234" width="1" height="20"/><rect x="1226" y="239" width="5" height="5"/><rect x="1236" y="205" width="1" height="41"/><rect x="1234" y="208" width="5" height="36"/><rect x="1235" y="209" width="3" height="34" fill="#fff"/><rect x="1244" y="201" width="1" height="24"/><rect x="1242" y="203" width="5" height="8"/><rect x="1243" y="204" width="3" height="6" fill="#fff"/><rect x="1252" y="188" width="1" height="41"/><rect x="1250" y="203" width="5" height="3"/><rect x="1260" y="202" width="1" height="15"/><rect x="1258" y="204" width="5" height="11"/><rect x="1268" y="211" width="1" height="11"/><rect x="1266" y="213" width="5" height="7"/><rect x="1276" y="216" width="1" height="18"/><rect x="1274" y="219" width="5" height="4"/><rect x="1284" y="211" width="1" height="21"/><rect x="1282" y="219" width="5" height="3"/><rect x="1292" y="195" width="1" height="36"/><rect x="1290" y="201" width="5" height="20"/><rect x="1291" y="202" width="3" height="18" fill="#fff"/><rect x="1300" y="186" width="1" height="19"/><rect x="1298" y="198" width="5" height="4"/><rect x="1299" y="199" width="3" height="2" fill="#fff"/><rect x="1308" y="189" width="1" height="12"/><rect x="1306" y="197" width="5" height="3"/><rect x="1316" y="186" width="1" height="13"/><rect x="1314" y="188" width="5" height="11"/><rect x="1315" y="189" width="3" height="9" fill="#fff"/><rect x="1324" y="174" width="1" height="20"/><rect x="1322" y="184" width="5" height="5"/><rect x="1323" y="185" width="3" height="3" fill="#fff"/><rect x="1332" y="181" width="1" height="20"/><rect x="1330" y="183" width="5" height="2"/><rect x="1340" y="171" width="1" height="18"/><rect x="1338" y="181" width="5" height="3"/><rect x="1339" y="182" width="3" height="1" fill="#fff"/><rect x="1348" y="161" width="1" height="31"/><rect x="1346" y="181" width="5" height="5"/><rect x="1356" y="178" width="1" height="17"/><rect x="1354" y="181" width="5" height="7"/><rect x="1355" y="182" width="3" height="5" fill="#fff"/><rect x="1364" y="178" width="1" height="10"/><rect x="1362" y="180" width="5" height="8"/></g>
<rect x="1260" y="204" width="126" height="7" fill="#00ff00" shape-rendering="crispEdges"/>
<path d="M1163.0,265.5 L1236.6,206.5" stroke="#ff0000" stroke-width="3.1" fill="none" stroke-linecap="round"/>
<path d="M1246.0,199.0 L1239.6,210.2 L1233.6,202.8Z" fill="#ff0000"/>
<path d="M1246.0,199.0 L1269.3,215.9" stroke="#ff0000" stroke-width="3.1" fill="none" stroke-linecap="round"/>
<path d="M1279.0,223.0 L1266.5,219.8 L1272.1,212.1Z" fill="#ff0000"/>
<path d="M1279.0,223.0 L1421.4,146.2" stroke="#ff0000" stroke-width="3.1" fill="none" stroke-linecap="round"/>
<path d="M1432.0,140.5 L1423.7,150.4 L1419.2,142.0Z" fill="#ff0000"/>
<rect x="1477" y="205" width="10" height="1" fill="#ff0000"/>
<rect x="1484.5" y="203.5" width="2.5" height="3" fill="#fff" stroke="#ff0000" stroke-width="1"/>
<rect x="1487.5" y="193.5" width="73" height="24" fill="#fff" stroke="#ff0000" stroke-width="1"/>
<text x="1489" y="213.7" font-size="22.3" fill="#ff0000" textLength="69.5" lengthAdjust="spacingAndGlyphs">134.455</text>
<text x="1417" y="257" font-size="31" font-weight="500" fill="#000" style="font-family:'Noto Serif CJK SC',serif" letter-spacing="2">多空转折点</text>
<text x="1416" y="256" font-size="31" font-weight="500" fill="#00ff00" style="font-family:'Noto Serif CJK SC',serif" letter-spacing="2">多空转折点</text>
</svg>
<rect x="0" y="26" width="219" height="85" fill="none"/>
<path d="M0,36.5 L6.5,36.5 L3.2,32Z" fill="#000"/>
<text x="11.38" y="37.2" transform="scale(0.967,1)" font-size="9.6" fill="#000" >GBPJPY-,H4  135.178 135.245 134.995 134.995</text>
<defs><linearGradient id="gh" x1="0" y1="0" x2="0" y2="1"><stop offset="0" stop-color="#f55656"/><stop offset="1" stop-color="#d42a2a"/></linearGradient><linearGradient id="gp" x1="0" y1="0" x2="0" y2="1"><stop offset="0" stop-color="#e03434"/><stop offset="1" stop-color="#a80000"/></linearGradient><linearGradient id="gb" x1="0" y1="0" x2="0" y2="1"><stop offset="0" stop-color="#f4f4f4"/><stop offset="0.45" stop-color="#ebebeb"/><stop offset="0.5" stop-color="#dcdcdc"/><stop offset="1" stop-color="#d2d2d2"/></linearGradient></defs>
<rect x="0" y="45" width="219" height="66" fill="#fff"/>
<rect x="0" y="45" width="51" height="25" fill="url(#gh)"/>
<rect x="166" y="45" width="52" height="25" fill="url(#gh)"/>
<rect x="0" y="69" width="108" height="40" fill="url(#gp)"/>
<rect x="110" y="69" width="108" height="40" fill="url(#gp)"/>
<g fill="#c01010" shape-rendering="crispEdges"><rect x="0" y="45" width="51" height="1"/><rect x="50" y="45" width="1" height="25"/><rect x="50" y="69" width="58" height="1"/><rect x="107" y="69" width="1" height="40"/><rect x="166" y="45" width="52" height="1"/><rect x="166" y="45" width="1" height="25"/><rect x="110" y="69" width="57" height="1"/><rect x="110" y="69" width="1" height="40"/><rect x="217" y="45" width="1" height="64"/></g>
<rect x="3" y="68" width="44" height="1" fill="#8c0000"/><rect x="3" y="69" width="44" height="1" fill="#f06a6a"/>
<rect x="170" y="68" width="44" height="1" fill="#8c0000"/><rect x="170" y="69" width="44" height="1" fill="#f06a6a"/>
<rect x="53.5" y="45.5" width="110" height="21" fill="#fff" stroke="#a8a8b0"/>
<rect x="54" y="46" width="20" height="20" fill="url(#gb)"/>
<rect x="143" y="46" width="20" height="20" fill="url(#gb)"/>
<rect x="74" y="46" width="1" height="20" fill="#a8a8b0"/><rect x="142" y="46" width="1" height="20" fill="#a8a8b0"/>
<path d="M61.5,54 L66.5,54 L64,57Z" fill="#4a5ac0"/>
<path d="M149.5,57 L155.5,57 L152.5,54Z" fill="#4a5ac0"/>
<text x="138.5" y="60" font-size="12" fill="#000" text-anchor="end">1.00</text>
<text x="11.3" y="61" font-size="12" fill="#fff" textLength="25.5" lengthAdjust="spacingAndGlyphs">SELL</text>
<text x="179.5" y="61" font-size="12" fill="#fff" textLength="23.2" lengthAdjust="spacingAndGlyphs">BUY</text>
<text x="22" y="100" font-size="12.2" font-weight="bold" fill="#fff">134</text>
<text x="46.5" y="100" font-size="34" fill="#fff" textLength="34" lengthAdjust="spacingAndGlyphs">99</text>
<text x="86.5" y="83.5" font-size="10" font-weight="bold" fill="#fff">5</text>
<text x="132" y="100" font-size="12.2" font-weight="bold" fill="#fff">135</text>
<text x="157.5" y="100" font-size="34" fill="#fff" textLength="34" lengthAdjust="spacingAndGlyphs">29</text>
<text x="197.5" y="83.5" font-size="10" font-weight="bold" fill="#fff">5</text>
<rect x="1606" y="47" width="3" height="1" fill="#000"/>
<text x="1669.43" y="51.3" transform="scale(0.965,1)" font-size="9.6" fill="#000" >139.045</text>
<rect x="1606" y="80" width="3" height="1" fill="#000"/>
<text x="1669.43" y="84.3" transform="scale(0.965,1)" font-size="9.6" fill="#000" >138.070</text>
<rect x="1606" y="113" width="3" height="1" fill="#000"/>
<text x="1669.43" y="117.3" transform="scale(0.965,1)" font-size="9.6" fill="#000" >137.120</text>
<rect x="1606" y="146" width="3" height="1" fill="#000"/>
<text x="1669.43" y="150.3" transform="scale(0.965,1)" font-size="9.6" fill="#000" >136.170</text>
<rect x="1606" y="179" width="3" height="1" fill="#000"/>
<text x="1669.43" y="183.3" transform="scale(0.965,1)" font-size="9.6" fill="#000" >135.220</text>
<rect x="1606" y="212" width="3" height="1" fill="#000"/>
<text x="1669.43" y="216.3" transform="scale(0.965,1)" font-size="9.6" fill="#000" >134.245</text>
<rect x="1606" y="245" width="3" height="1" fill="#000"/>
<text x="1669.43" y="249.3" transform="scale(0.965,1)" font-size="9.6" fill="#000" >133.295</text>
<rect x="1606" y="278" width="3" height="1" fill="#000"/>
<text x="1669.43" y="282.3" transform="scale(0.965,1)" font-size="9.6" fill="#000" >132.345</text>
<rect x="1606" y="311" width="3" height="1" fill="#000"/>
<text x="1669.43" y="315.3" transform="scale(0.965,1)" font-size="9.6" fill="#000" >131.395</text>
<rect x="1606" y="344" width="3" height="1" fill="#000"/>
<text x="1669.43" y="348.3" transform="scale(0.965,1)" font-size="9.6" fill="#000" >130.420</text>
<rect x="1606" y="377" width="3" height="1" fill="#000"/>
<text x="1669.43" y="381.3" transform="scale(0.965,1)" font-size="9.6" fill="#000" >129.470</text>
<rect x="1606" y="410" width="3" height="1" fill="#000"/>
<text x="1669.43" y="414.3" transform="scale(0.965,1)" font-size="9.6" fill="#000" >128.520</text>
<rect x="1606" y="443" width="3" height="1" fill="#000"/>
<text x="1669.43" y="447.3" transform="scale(0.965,1)" font-size="9.6" fill="#000" >127.570</text>
<rect x="1606" y="476" width="3" height="1" fill="#000"/>
<text x="1669.43" y="480.3" transform="scale(0.965,1)" font-size="9.6" fill="#000" >126.620</text>
<rect x="1606" y="509" width="3" height="1" fill="#000"/>
<text x="1669.43" y="513.3" transform="scale(0.965,1)" font-size="9.6" fill="#000" >125.645</text>
<rect x="1606" y="542" width="3" height="1" fill="#000"/>
<text x="1669.43" y="546.3" transform="scale(0.965,1)" font-size="9.6" fill="#000" >124.695</text>
<rect x="1606" y="575" width="3" height="1" fill="#000"/>
<text x="1669.43" y="579.3" transform="scale(0.965,1)" font-size="9.6" fill="#000" >123.745</text>
<rect x="1607" y="134" width="41" height="11" fill="#ff0000"/>
<text x="1669.43" y="143.2" transform="scale(0.965,1)" font-size="9.6" fill="#fff" >136.334</text>
<rect x="1607" y="159" width="41" height="11" fill="#ff0000"/>
<text x="1669.43" y="168.2" transform="scale(0.965,1)" font-size="9.6" fill="#fff" >135.611</text>
<rect x="1607" y="182" width="41" height="11" fill="#000000"/>
<text x="1669.43" y="191.2" transform="scale(0.965,1)" font-size="9.6" fill="#fff" >134.995</text>
<rect x="1607" y="199" width="41" height="11" fill="#32cd32"/>
<text x="1669.43" y="208.2" transform="scale(0.965,1)" font-size="9.6" fill="#fff" >134.455</text>
<rect x="1607" y="216" width="41" height="11" fill="#0000ff"/>
<text x="1669.43" y="225.2" transform="scale(0.965,1)" font-size="9.6" fill="#fff" >133.963</text>
<rect x="1607" y="239" width="41" height="11" fill="#0000ff"/>
<text x="1669.43" y="248.2" transform="scale(0.965,1)" font-size="9.6" fill="#fff" >133.306</text>
<rect x="0" y="580" width="1606" height="1" fill="#000"/>
<rect x="1605" y="580" width="1" height="171" fill="#000"/>
<rect x="0" y="750" width="1606" height="1" fill="#000"/>
<g fill="#c0c0c0" shape-rendering="crispEdges"><rect x="4" y="645" width="1" height="73"/><rect x="12" y="645" width="1" height="73"/><rect x="20" y="645" width="1" height="67"/><rect x="28" y="645" width="1" height="69"/><rect x="36" y="645" width="1" height="65"/><rect x="44" y="645" width="1" height="63"/><rect x="52" y="645" width="1" height="61"/><rect x="60" y="645" width="1" height="61"/><rect x="68" y="645" width="1" height="61"/><rect x="76" y="645" width="1" height="58"/><rect x="84" y="645" width="1" height="56"/><rect x="92" y="645" width="1" height="53"/><rect x="100" y="645" width="1" height="51"/><rect x="108" y="645" width="1" height="46"/><rect x="116" y="645" width="1" height="41"/><rect x="124" y="645" width="1" height="36"/><rect x="132" y="645" width="1" height="33"/><rect x="140" y="645" width="1" height="30"/><rect x="148" y="645" width="1" height="29"/><rect x="156" y="645" width="1" height="27"/><rect x="164" y="645" width="1" height="28"/><rect x="172" y="645" width="1" height="29"/><rect x="180" y="645" width="1" height="29"/><rect x="188" y="645" width="1" height="30"/><rect x="196" y="645" width="1" height="29"/><rect x="204" y="645" width="1" height="29"/><rect x="212" y="645" width="1" height="34"/><rect x="220" y="645" width="1" height="45"/><rect x="228" y="645" width="1" height="49"/><rect x="236" y="645" width="1" height="55"/><rect x="244" y="645" width="1" height="59"/><rect x="252" y="645" width="1" height="61"/><rect x="260" y="645" width="1" height="61"/><rect x="268" y="645" width="1" height="57"/><rect x="276" y="645" width="1" height="52"/><rect x="284" y="645" width="1" height="43"/><rect x="292" y="645" width="1" height="46"/><rect x="300" y="645" width="1" height="39"/><rect x="308" y="645" width="1" height="36"/><rect x="316" y="645" width="1" height="35"/><rect x="324" y="645" width="1" height="32"/><rect x="332" y="645" width="1" height="30"/><rect x="340" y="645" width="1" height="30"/><rect x="348" y="645" width="1" height="34"/><rect x="356" y="645" width="1" height="35"/><rect x="364" y="645" width="1" height="43"/><rect x="372" y="645" width="1" height="48"/><rect x="380" y="645" width="1" height="54"/><rect x="388" y="645" width="1" height="57"/><rect x="396" y="645" width="1" height="57"/><rect x="404" y="645" width="1" height="61"/><rect x="412" y="645" width="1" height="63"/><rect x="420" y="645" width="1" height="59"/><rect x="428" y="645" width="1" height="51"/><rect x="436" y="645" width="1" height="49"/><rect x="444" y="645" width="1" height="45"/><rect x="452" y="645" width="1" height="47"/><rect x="460" y="645" width="1" height="48"/><rect x="468" y="645" width="1" height="51"/><rect x="476" y="645" width="1" height="57"/><rect x="484" y="645" width="1" height="63"/><rect x="492" y="645" width="1" height="67"/><rect x="500" y="645" width="1" height="67"/><rect x="508" y="645" width="1" height="65"/><rect x="516" y="645" width="1" height="64"/><rect x="524" y="645" width="1" height="67"/><rect x="532" y="645" width="1" height="69"/><rect x="540" y="645" width="1" height="65"/><rect x="548" y="645" width="1" height="63"/><rect x="556" y="645" width="1" height="61"/><rect x="564" y="645" width="1" height="61"/><rect x="572" y="645" width="1" height="65"/><rect x="580" y="645" width="1" height="70"/><rect x="588" y="645" width="1" height="83"/><rect x="596" y="645" width="1" height="90"/><rect x="604" y="645" width="1" height="94"/><rect x="612" y="645" width="1" height="98"/><rect x="620" y="645" width="1" height="94"/><rect x="628" y="645" width="1" height="82"/><rect x="636" y="645" width="1" height="76"/><rect x="644" y="645" width="1" height="69"/><rect x="652" y="645" width="1" height="62"/><rect x="660" y="645" width="1" height="51"/><rect x="668" y="645" width="1" height="42"/><rect x="676" y="645" width="1" height="28"/><rect x="684" y="645" width="1" height="26"/><rect x="692" y="645" width="1" height="26"/><rect x="700" y="645" width="1" height="24"/><rect x="708" y="645" width="1" height="23"/><rect x="716" y="645" width="1" height="25"/><rect x="724" y="645" width="1" height="25"/><rect x="732" y="645" width="1" height="26"/><rect x="740" y="645" width="1" height="23"/><rect x="748" y="645" width="1" height="21"/><rect x="756" y="645" width="1" height="18"/><rect x="764" y="645" width="1" height="9"/><rect x="772" y="642" width="1" height="4"/><rect x="780" y="634" width="1" height="12"/><rect x="788" y="628" width="1" height="18"/><rect x="796" y="623" width="1" height="23"/><rect x="804" y="616" width="1" height="30"/><rect x="812" y="610" width="1" height="36"/><rect x="820" y="610" width="1" height="36"/><rect x="828" y="607" width="1" height="39"/><rect x="836" y="607" width="1" height="39"/><rect x="844" y="608" width="1" height="38"/><rect x="852" y="607" width="1" height="39"/><rect x="860" y="609" width="1" height="37"/><rect x="868" y="605" width="1" height="41"/><rect x="876" y="598" width="1" height="48"/><rect x="884" y="596" width="1" height="50"/><rect x="892" y="595" width="1" height="51"/><rect x="900" y="595" width="1" height="51"/><rect x="908" y="596" width="1" height="50"/><rect x="916" y="594" width="1" height="52"/><rect x="924" y="590" width="1" height="56"/><rect x="932" y="590" width="1" height="56"/><rect x="940" y="595" width="1" height="51"/><rect x="948" y="597" width="1" height="49"/><rect x="956" y="596" width="1" height="50"/><rect x="964" y="597" width="1" height="49"/><rect x="972" y="599" width="1" height="47"/><rect x="980" y="601" width="1" height="45"/><rect x="988" y="603" width="1" height="43"/><rect x="996" y="606" width="1" height="40"/><rect x="1004" y="607" width="1" height="39"/><rect x="1012" y="608" width="1" height="38"/><rect x="1020" y="611" width="1" height="35"/><rect x="1028" y="615" width="1" height="31"/><rect x="1036" y="618" width="1" height="28"/><rect x="1044" y="622" width="1" height="24"/><rect x="1052" y="626" width="1" height="20"/><rect x="1060" y="630" width="1" height="16"/><rect x="1068" y="634" width="1" height="12"/><rect x="1076" y="636" width="1" height="10"/><rect x="1084" y="638" width="1" height="8"/><rect x="1092" y="638" width="1" height="8"/><rect x="1100" y="638" width="1" height="8"/><rect x="1108" y="637" width="1" height="9"/><rect x="1116" y="636" width="1" height="10"/><rect x="1124" y="635" width="1" height="11"/><rect x="1132" y="635" width="1" height="11"/><rect x="1140" y="635" width="1" height="11"/><rect x="1148" y="636" width="1" height="10"/><rect x="1156" y="640" width="1" height="6"/><rect x="1164" y="642" width="1" height="4"/><rect x="1172" y="644" width="1" height="2"/><rect x="1180" y="644" width="1" height="2"/><rect x="1188" y="639" width="1" height="7"/><rect x="1196" y="637" width="1" height="9"/><rect x="1204" y="635" width="1" height="11"/><rect x="1212" y="635" width="1" height="11"/><rect x="1220" y="638" width="1" height="8"/><rect x="1228" y="638" width="1" height="8"/><rect x="1236" y="636" width="1" height="10"/><rect x="1244" y="633" width="1" height="13"/><rect x="1252" y="631" width="1" height="15"/><rect x="1260" y="631" width="1" height="15"/><rect x="1268" y="631" width="1" height="15"/><rect x="1276" y="633" width="1" height="13"/><rect x="1284" y="633" width="1" height="13"/><rect x="1292" y="632" width="1" height="14"/><rect x="1300" y="631" width="1" height="15"/><rect x="1308" y="629" width="1" height="17"/><rect x="1316" y="628" width="1" height="18"/><rect x="1324" y="626" width="1" height="20"/><rect x="1332" y="625" width="1" height="21"/><rect x="1340" y="624" width="1" height="22"/><rect x="1348" y="624" width="1" height="22"/><rect x="1356" y="624" width="1" height="22"/><rect x="1364" y="625" width="1" height="21"/></g>
<polyline points="0.0,705.0 4.0,705.4 10.0,708.0 20.0,712.0 28.0,714.0 44.0,714.4 60.0,712.4 80.0,707.4 100.0,704.0 120.0,697.4 140.0,690.4 160.0,683.3 180.0,677.3 196.0,674.3 210.0,674.4 220.0,676.2 232.0,679.0 240.0,680.8 250.0,686.2 260.0,689.9 268.0,693.5 275.0,695.9 285.0,697.7 300.0,698.0 310.0,696.2 320.0,691.7 330.0,688.6 340.0,684.4 350.0,681.7 360.0,680.2 370.0,680.8 380.0,683.5 390.0,686.2 400.0,689.0 410.0,693.5 420.0,697.1 430.0,699.5 440.0,699.5 450.0,698.0 460.0,697.1 470.0,697.0 482.7,696.2 498.2,698.9 507.2,701.3 516.3,702.6 525.4,705.3 534.5,708.6 549.0,710.4 561.7,709.3 579.9,709.3 592.6,712.2 603.5,717.1 614.4,721.3 625.3,725.3 639.8,728.5 652.5,727.4 661.6,724.4 670.7,717.1 679.7,707.1 688.8,698.0 697.9,690.8 708.8,683.5 719.7,676.2 734.2,671.7 748.8,668.6 761.5,666.3 770.5,662.6 779.1,659.9 788.2,653.5 797.2,649.9 806.3,641.7 815.4,632.7 824.5,626.3 833.6,620.0 842.6,616.0 851.7,612.7 860.8,610.5 871.7,607.6 882.6,605.1 897.1,602.7 908.0,600.3 920.7,598.5 928.0,596.3 938.9,593.6 951.6,593.1 960.7,593.6 975.2,594.5 987.9,596.3 998.8,598.2 1011.5,600.9 1024.2,603.6 1035.1,607.6 1047.8,610.0 1056.9,613.6 1067.8,617.2 1071.6,619.1 1083.2,624.9 1094.9,629.4 1108.4,632.7 1123.9,635.2 1147.2,635.8 1166.5,636.6 1185.9,638.1 1215.0,638.5 1234.3,637.1 1253.7,634.6 1273.1,633.3 1286.6,632.7 1302.1,630.8 1321.5,630.0 1335.1,628.4 1350.6,626.9 1364.0,625.5" fill="none" stroke="#ff0000" stroke-width="1" stroke-dasharray="3,3" stroke-dashoffset="-2" shape-rendering="crispEdges"/>
<text x="0.00" y="593.5" transform="scale(0.99,1)" font-size="9.6" fill="#000" >MACD(12,26,9) 0.4154 0.3893</text>
<rect x="1606" y="582" width="3" height="1" fill="#000"/>
<rect x="1606" y="645" width="3" height="1" fill="#000"/>
<rect x="1606" y="749" width="3" height="1" fill="#000"/>
<text x="1667.36" y="591.3" transform="scale(0.965,1)" font-size="9.6" fill="#000" >1.2293</text>
<text x="1667.36" y="648.8" transform="scale(0.965,1)" font-size="9.6" fill="#000" >0.00</text>
<text x="1667.36" y="747" transform="scale(0.965,1)" font-size="9.6" fill="#000" >-2.0003</text>
<rect x="0" y="752" width="1606" height="1" fill="#000"/>
<rect x="1605" y="752" width="1" height="175" fill="#000"/>
<rect x="0" y="926" width="1606" height="1" fill="#000"/>
<line x1="3" y1="788.5" x2="1605" y2="788.5" stroke="#c0c0c0" stroke-width="1" stroke-dasharray="3,3" shape-rendering="crispEdges"/>
<line x1="3" y1="839.5" x2="1605" y2="839.5" stroke="#c0c0c0" stroke-width="1" stroke-dasharray="3,3" shape-rendering="crispEdges"/>
<line x1="3" y1="900.5" x2="1605" y2="900.5" stroke="#c0c0c0" stroke-width="1" stroke-dasharray="3,3" shape-rendering="crispEdges"/>
<polyline points="0.0,885.5 4.0,885.0 12.0,881.0 20.0,864.0 28.0,870.0 36.0,865.0 44.0,867.0 52.0,869.5 60.0,873.0 68.0,874.0 76.0,866.0 84.0,867.0 92.0,867.0 100.0,867.0 108.0,853.5 116.0,844.0 124.0,851.0 132.0,849.5 140.0,851.0 148.0,855.0 156.0,857.0 164.0,859.0 172.0,866.0 180.0,862.5 188.0,867.0 196.0,858.4 204.0,863.2 212.0,873.5 220.0,891.1 228.0,873.5 236.0,879.9 244.0,874.4 252.0,875.3 260.0,865.3 268.0,854.1 276.0,849.9 284.0,840.3 292.0,862.6 300.0,841.7 308.0,846.3 316.0,848.1 324.0,846.3 332.0,848.1 340.0,849.9 348.0,858.1 356.0,859.5 364.0,869.9 372.0,865.7 380.0,871.2 388.0,865.3 396.0,863.5 404.0,869.9 412.0,868.6 420.0,851.7 428.0,843.6 436.0,851.2 444.0,849.4 452.0,858.1 460.0,859.5 468.0,865.7 476.0,869.9 484.0,874.1 492.0,874.1 500.0,865.3 508.0,861.4 516.0,863.2 524.0,872.2 532.0,873.5 540.0,858.4 548.0,858.4 556.0,861.7 564.0,865.7 572.0,874.8 580.0,877.1 588.0,889.3 596.0,880.2 604.0,881.3 612.0,882.6 620.0,863.2 628.0,847.6 636.0,852.3 644.0,849.9 652.0,848.1 660.0,836.7 668.0,836.3 676.0,825.4 684.0,843.6 692.0,847.6 700.0,845.4 708.0,845.4 716.0,852.3 724.0,848.6 732.0,850.5 740.0,842.1 748.0,844.5 756.0,839.0 764.0,825.4 772.0,817.2 780.0,821.4 788.0,821.4 796.0,820.3 804.0,814.5 812.0,812.3 820.0,827.6 828.0,819.0 836.0,827.6 844.0,828.7 852.0,823.6 860.0,829.4 868.0,817.2 876.0,811.2 884.0,819.0 892.0,818.1 900.0,822.1 908.0,821.4 916.0,817.2 924.0,810.5 932.0,819.0 940.0,829.9 948.0,826.3 956.0,819.6 964.0,823.2 972.0,824.5 980.0,826.3 988.0,825.4 996.0,828.1 1004.0,823.6 1012.0,825.0 1020.0,828.7 1028.0,833.0 1036.0,833.6 1044.0,839.0 1052.0,837.7 1060.0,845.5 1068.0,842.4 1076.0,842.4 1084.0,838.1 1092.0,837.1 1100.0,831.9 1108.0,830.0 1116.0,825.5 1124.0,824.6 1132.0,830.4 1140.0,831.3 1148.0,837.1 1156.0,851.3 1164.0,846.2 1172.0,847.4 1180.0,838.1 1188.0,817.2 1196.0,824.2 1204.0,823.0 1212.0,833.8 1220.0,837.1 1228.0,838.5 1236.0,823.6 1244.0,820.7 1252.0,821.1 1260.0,826.5 1268.0,830.8 1276.0,833.3 1284.0,831.3 1292.0,821.6 1300.0,819.7 1308.0,820.3 1316.0,816.4 1324.0,813.9 1332.0,812.5 1340.0,811.0 1348.0,818.4 1356.0,814.5 1364.0,819.7" fill="none" stroke="#1e90ff" stroke-width="1" shape-rendering="crispEdges"/>
<text x="0.00" y="765.3" transform="scale(0.99,1)" font-size="9.6" fill="#000" >RSI(14) 61.2905</text>
<rect x="1606" y="754" width="3" height="1" fill="#000"/>
<rect x="1606" y="788" width="3" height="1" fill="#000"/>
<rect x="1606" y="839" width="3" height="1" fill="#000"/>
<rect x="1606" y="900" width="3" height="1" fill="#000"/>
<rect x="1606" y="926" width="3" height="1" fill="#000"/>
<text x="1667.36" y="763.3" transform="scale(0.965,1)" font-size="9.6" fill="#000" >100</text>
<text x="1667.36" y="792.3" transform="scale(0.965,1)" font-size="9.6" fill="#000" >80</text>
<text x="1667.36" y="843.3" transform="scale(0.965,1)" font-size="9.6" fill="#000" >50</text>
<text x="1667.36" y="904.3" transform="scale(0.965,1)" font-size="9.6" fill="#000" >15</text>
<text x="1667.36" y="923.3" transform="scale(0.965,1)" font-size="9.6" fill="#000" >0</text>
<rect x="-4" y="927" width="1" height="4" fill="#000"/>
<text x="-7.01" y="939" transform="scale(0.97,1)" font-size="9.6" fill="#000" >2 Mar 2020</text>
<rect x="60" y="927" width="1" height="4" fill="#000"/>
<text x="62.47" y="939" transform="scale(0.97,1)" font-size="9.6" fill="#000" >3 Mar 16:00</text>
<rect x="124" y="927" width="1" height="4" fill="#000"/>
<text x="128.45" y="939" transform="scale(0.97,1)" font-size="9.6" fill="#000" >5 Mar 00:00</text>
<rect x="188" y="927" width="1" height="4" fill="#000"/>
<text x="194.43" y="939" transform="scale(0.97,1)" font-size="9.6" fill="#000" >6 Mar 08:00</text>
<rect x="252" y="927" width="1" height="4" fill="#000"/>
<text x="260.41" y="939" transform="scale(0.97,1)" font-size="9.6" fill="#000" >9 Mar 16:00</text>
<rect x="316" y="927" width="1" height="4" fill="#000"/>
<text x="326.39" y="939" transform="scale(0.97,1)" font-size="9.6" fill="#000" >11 Mar 00:00</text>
<rect x="380" y="927" width="1" height="4" fill="#000"/>
<text x="392.37" y="939" transform="scale(0.97,1)" font-size="9.6" fill="#000" >12 Mar 08:00</text>
<rect x="444" y="927" width="1" height="4" fill="#000"/>
<text x="458.35" y="939" transform="scale(0.97,1)" font-size="9.6" fill="#000" >13 Mar 16:00</text>
<rect x="508" y="927" width="1" height="4" fill="#000"/>
<text x="524.33" y="939" transform="scale(0.97,1)" font-size="9.6" fill="#000" >17 Mar 00:00</text>
<rect x="572" y="927" width="1" height="4" fill="#000"/>
<text x="590.31" y="939" transform="scale(0.97,1)" font-size="9.6" fill="#000" >18 Mar 08:00</text>
<rect x="636" y="927" width="1" height="4" fill="#000"/>
<text x="656.29" y="939" transform="scale(0.97,1)" font-size="9.6" fill="#000" >19 Mar 16:00</text>
<rect x="700" y="927" width="1" height="4" fill="#000"/>
<text x="722.27" y="939" transform="scale(0.97,1)" font-size="9.6" fill="#000" >23 Mar 00:00</text>
<rect x="764" y="927" width="1" height="4" fill="#000"/>
<text x="788.25" y="939" transform="scale(0.97,1)" font-size="9.6" fill="#000" >24 Mar 08:00</text>
<rect x="828" y="927" width="1" height="4" fill="#000"/>
<text x="854.23" y="939" transform="scale(0.97,1)" font-size="9.6" fill="#000" >25 Mar 16:00</text>
<rect x="892" y="927" width="1" height="4" fill="#000"/>
<text x="920.21" y="939" transform="scale(0.97,1)" font-size="9.6" fill="#000" >27 Mar 00:00</text>
<rect x="956" y="927" width="1" height="4" fill="#000"/>
<text x="986.19" y="939" transform="scale(0.97,1)" font-size="9.6" fill="#000" >30 Mar 08:00</text>
<rect x="1020" y="927" width="1" height="4" fill="#000"/>
<text x="1052.16" y="939" transform="scale(0.97,1)" font-size="9.6" fill="#000" >31 Mar 16:00</text>
<rect x="1084" y="927" width="1" height="4" fill="#000"/>
<text x="1118.14" y="939" transform="scale(0.97,1)" font-size="9.6" fill="#000" >2 Apr 00:00</text>
<rect x="1148" y="927" width="1" height="4" fill="#000"/>
<text x="1184.12" y="939" transform="scale(0.97,1)" font-size="9.6" fill="#000" >3 Apr 08:00</text>
<rect x="1212" y="927" width="1" height="4" fill="#000"/>
<text x="1250.10" y="939" transform="scale(0.97,1)" font-size="9.6" fill="#000" >6 Apr 16:00</text>
<rect x="1276" y="927" width="1" height="4" fill="#000"/>
<text x="1316.08" y="939" transform="scale(0.97,1)" font-size="9.6" fill="#000" >8 Apr 00:00</text>
<rect x="1340" y="927" width="1" height="4" fill="#000"/>
<text x="1382.06" y="939" transform="scale(0.97,1)" font-size="9.6" fill="#000" >9 Apr 08:00</text>
</svg>
</body></html>
